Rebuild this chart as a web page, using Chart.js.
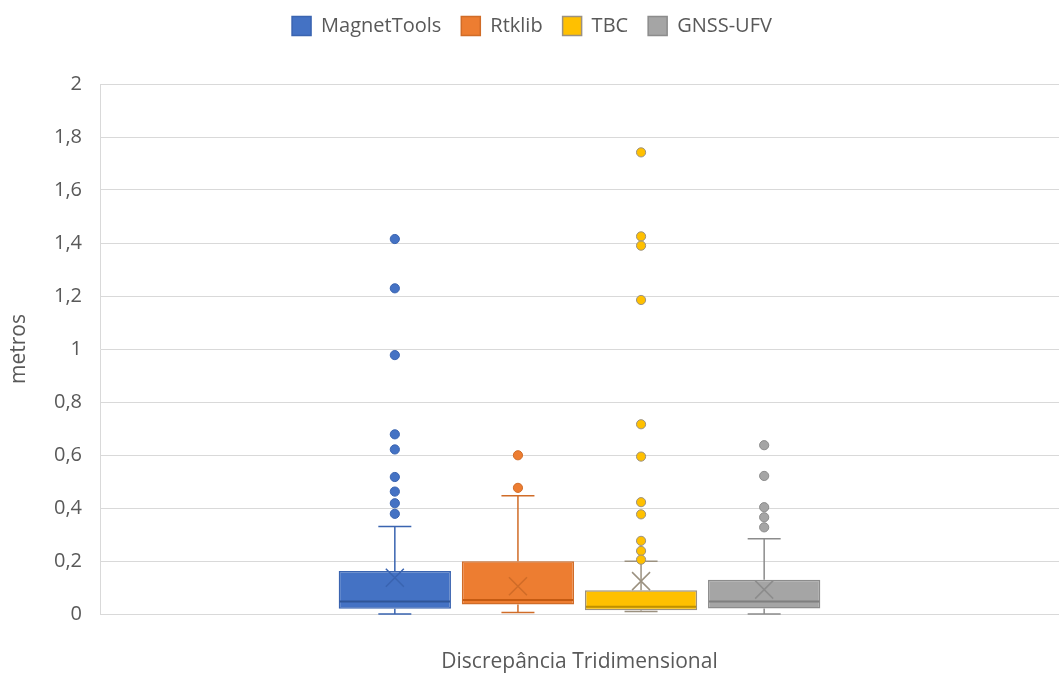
<!DOCTYPE html>
<html>
<head>
<meta charset="utf-8">
<script src="https://cdn.jsdelivr.net/npm/chart.js@4.4.1/dist/chart.umd.min.js"></script>
<style>
  html, body { margin: 0; padding: 0; background: #ffffff; }
  #wrap { position: relative; width: 1059px; height: 675px; }
</style>
</head>
<body>
<div id="wrap"><canvas id="c"></canvas></div>
<script>
// ---- data ----
const categories = ['Discrepância Tridimensional'];
const seriesNames = ['MagnetTools', 'Rtklib', 'TBC', 'GNSS-UFV'];
const q1Values = [0.020, 0.036, 0.014, 0.021];
const q3Values = [0.162, 0.199, 0.090, 0.129];
const medianValues = [0.047, 0.053, 0.027, 0.047];
const meanValues = [0.137, 0.105, 0.124, 0.092];
const whiskerMinValues = [0.000, 0.006, 0.009, 0.000];
const whiskerMaxValues = [0.330, 0.446, 0.199, 0.284];
const magnetToolsOutliers = [1.415, 1.229, 0.977, 0.678, 0.621, 0.517, 0.462, 0.418, 0.378];
const rtklibOutliers = [0.599, 0.476];
const tbcOutliers = [1.742, 1.425, 1.390, 1.185, 0.716, 0.594, 0.422, 0.376, 0.276, 0.238, 0.205];
const gnssUfvOutliers = [0.637, 0.521, 0.403, 0.365, 0.327];
const yTickValues = [0, 0.2, 0.4, 0.6, 0.8, 1, 1.2, 1.4, 1.6, 1.8, 2];

const outlierLists = [magnetToolsOutliers, rtklibOutliers, tbcOutliers, gnssUfvOutliers];
const fillColors = ['#4472C4', '#ED7D31', '#FFC000', '#A5A5A5'];
const lineColors = ['#3A64B0', '#D06C28', '#9B9180', '#8C8C8C'];
const medianColors = ['#2F5597', '#C55A11', '#BF9000', '#7F7F7F'];
const FONT = "'Open Sans', 'Noto Sans', sans-serif";
const TEXT = '#595959';

const datasets = seriesNames.map((name, i) => ({
  label: name,
  data: [[q1Values[i], q3Values[i]]],
  backgroundColor: fillColors[i],
  borderColor: lineColors[i],
  borderWidth: 1.5,
  borderSkipped: false,
  categoryPercentage: 0.5135,
  barPercentage: 0.912
}));

const boxPlotPlugin = {
  id: 'boxPlotParts',
  afterDatasetsDraw(chart) {
    const ctx = chart.ctx;
    const ys = chart.scales.y;
    seriesNames.forEach((name, i) => {
      const meta = chart.getDatasetMeta(i);
      if (meta.hidden) return;
      const bar = meta.data[0];
      const x = bar.x;
      const w = bar.width;
      const cap = 33;
      ctx.save();
      ctx.strokeStyle = lineColors[i];
      ctx.lineWidth = 1.5;
      const yQ3 = ys.getPixelForValue(q3Values[i]);
      const yMax = ys.getPixelForValue(whiskerMaxValues[i]);
      const yQ1 = ys.getPixelForValue(q1Values[i]);
      const yMin = ys.getPixelForValue(whiskerMinValues[i]);
      ctx.beginPath();
      ctx.moveTo(x, yQ3); ctx.lineTo(x, yMax);
      ctx.moveTo(x - cap / 2, yMax); ctx.lineTo(x + cap / 2, yMax);
      ctx.moveTo(x, yQ1); ctx.lineTo(x, yMin);
      ctx.moveTo(x - cap / 2, yMin); ctx.lineTo(x + cap / 2, yMin);
      ctx.stroke();
      // median
      const yMed = ys.getPixelForValue(medianValues[i]);
      ctx.strokeStyle = medianColors[i];
      ctx.lineWidth = 2;
      ctx.beginPath();
      ctx.moveTo(x - w / 2 + 1, yMed); ctx.lineTo(x + w / 2 - 1, yMed);
      ctx.stroke();
      // mean X
      const yMean = ys.getPixelForValue(meanValues[i]);
      const s = 9;
      ctx.strokeStyle = lineColors[i];
      ctx.lineWidth = 1.5;
      ctx.beginPath();
      ctx.moveTo(x - s, yMean - s); ctx.lineTo(x + s, yMean + s);
      ctx.moveTo(x + s, yMean - s); ctx.lineTo(x - s, yMean + s);
      ctx.stroke();
      // outliers
      ctx.fillStyle = fillColors[i];
      ctx.strokeStyle = lineColors[i];
      ctx.lineWidth = 1;
      outlierLists[i].forEach(v => {
        const yp = ys.getPixelForValue(v);
        ctx.beginPath();
        ctx.arc(x, yp, 4.6, 0, Math.PI * 2);
        ctx.fill();
        ctx.stroke();
      });
      ctx.restore();
    });
  }
};

const legendSizePlugin = {
  id: 'legendSize',
  beforeInit(chart) {
    const lg = chart.legend;
    if (lg && !lg._patched) {
      const orig = lg.fit;
      lg.fit = function () { orig.call(this); this.height = 88; };
      lg._patched = true;
    }
  }
};

new Chart(document.getElementById('c'), {
  type: 'bar',
  data: { labels: categories, datasets: datasets },
  options: {
    responsive: true,
    maintainAspectRatio: false,
    animation: false,
    layout: { padding: { top: -4, left: 0, right: -5, bottom: 0 } },
    plugins: {
      legend: {
        position: 'top',
        labels: {
          boxWidth: 19, boxHeight: 19, padding: 20,
          color: TEXT, font: { family: FONT, size: 20 }
        }
      },
      tooltip: { enabled: false }
    },
    scales: {
      x: {
        offset: true,
        grid: { display: false },
        border: { display: false },
        ticks: { display: false },
        title: {
          display: true, text: 'Discrepância Tridimensional',
          color: TEXT, font: { family: FONT, size: 21 }, padding: 0
        },
        afterFit(scale) { scale.height = 61; }
      },
      y: {
        min: 0, max: 2,
        afterBuildTicks(scale) { scale.ticks = yTickValues.map(v => ({ value: v })); },
        grid: { color: '#D9D9D9', lineWidth: 1, drawTicks: false },
        border: { display: true, color: '#D9D9D9' },
        ticks: {
          padding: 18, color: TEXT, font: { family: FONT, size: 20 },
          callback: (v) => String(Math.round(v * 10) / 10).replace('.', ',')
        },
        title: {
          display: true, text: 'metros',
          color: TEXT, font: { family: FONT, size: 21 }, padding: { top: 6, bottom: 0 }
        },
        afterFit(scale) { scale.width = 100; }
      }
    }
  },
  plugins: [boxPlotPlugin, legendSizePlugin]
});
</script>
</body>
</html>
